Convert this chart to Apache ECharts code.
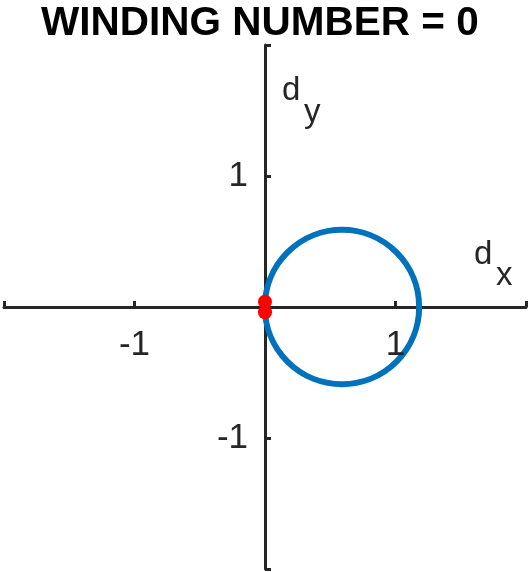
<!DOCTYPE html>
<html>
<head>
<meta charset="utf-8">
<script src="https://cdn.jsdelivr.net/npm/echarts@6/dist/echarts.min.js"></script>
<style>
html,body{margin:0;padding:0;background:#fff;}
#chart{width:530px;height:572px;}
</style>
</head>
<body>
<div id="chart"></div>
<script>
// ---- data ----
const titleText = 'WINDING NUMBER = 0';
const xRange = [-2, 2];
const yRange = [-2, 2];
const tickStep = 1;
const xTickLabels = [-1, 1];
const yTickLabels = [-1, 1];
const circleCenterX = [0.59];
const circleCenterY = [0];
const circleRadius = [0.59];
const startMarkerX = [0, 0];
const startMarkerY = [0.04, -0.04];

const axisColor = '#262626';
const font = '"Liberation Sans", Arial, Helvetica, sans-serif';

const chart = echarts.init(document.getElementById('chart'), null, {renderer: 'canvas'});

const circleData = circleCenterX.map((x, i) => [x, circleCenterY[i], circleRadius[i]]);
const markerData = startMarkerX.map((x, i) => [x, startMarkerY[i]]);
const xLabelData = xTickLabels.map(v => [v, 0]);
const yLabelData = yTickLabels.map(v => [0, v]);

const tickLabelStyle = {fontSize: 35, fontFamily: font, color: axisColor, opacity: 1};

const option = {
  animation: false,
  backgroundColor: '#fff',
  title: {
    text: titleText,
    left: 36,
    top: -2,
    textStyle: {fontFamily: font, fontWeight: 'bold', fontSize: 40.5, color: '#000'}
  },
  grid: {left: 4, right: 4, top: 45, bottom: 3, containLabel: false, outerBoundsMode: 'none'},
  xAxis: {
    type: 'value', min: xRange[0], max: xRange[1], interval: tickStep,
    axisLine: {onZero: true, lineStyle: {color: axisColor, width: 3}},
    axisTick: {inside: true, length: 6, lineStyle: {color: axisColor, width: 3}},
    splitLine: {show: false},
    axisLabel: {show: false}
  },
  yAxis: {
    type: 'value', min: yRange[0], max: yRange[1], interval: tickStep,
    axisLine: {onZero: true, lineStyle: {color: axisColor, width: 3}},
    axisTick: {inside: true, length: 6, lineStyle: {color: axisColor, width: 3}},
    splitLine: {show: false},
    axisLabel: {show: false}
  },
  series: [
    {
      type: 'custom',
      data: circleData,
      renderItem: function (params, api) {
        const c = api.coord([api.value(0), api.value(1)]);
        const s = api.size([api.value(2), api.value(2)]);
        return {
          type: 'circle',
          shape: {cx: c[0], cy: c[1], r: (s[0] + s[1]) / 2},
          style: {fill: 'none', stroke: '#0072BD', lineWidth: 6}
        };
      },
      z: 3
    },
    {
      type: 'scatter',
      data: markerData,
      symbol: 'circle',
      symbolSize: 14,
      itemStyle: {color: '#FF0000', opacity: 1},
      z: 4
    },
    {
      type: 'scatter',
      data: xLabelData,
      symbolSize: 0,
      silent: true,
      itemStyle: {opacity: 1},
      label: {show: true, position: 'bottom', distance: 21, formatter: p => String(p.value[0]), ...tickLabelStyle},
      z: 5
    },
    {
      type: 'scatter',
      data: yLabelData,
      symbolSize: 0,
      silent: true,
      itemStyle: {opacity: 1},
      label: {show: true, position: 'left', distance: 17, formatter: p => String(p.value[1]), ...tickLabelStyle},
      z: 5
    }
  ],
  graphic: [
    {type: 'text', left: 474, top: 238, style: {text: 'd', fontSize: 33, fontFamily: font, fill: axisColor}},
    {type: 'text', left: 496, top: 259, style: {text: 'x', fontSize: 33, fontFamily: font, fill: axisColor}},
    {type: 'text', left: 282, top: 74, style: {text: 'd', fontSize: 33, fontFamily: font, fill: axisColor}},
    {type: 'text', left: 304, top: 96, style: {text: 'y', fontSize: 33, fontFamily: font, fill: axisColor}}
  ]
};
chart.setOption(option);
</script>
</body>
</html>
